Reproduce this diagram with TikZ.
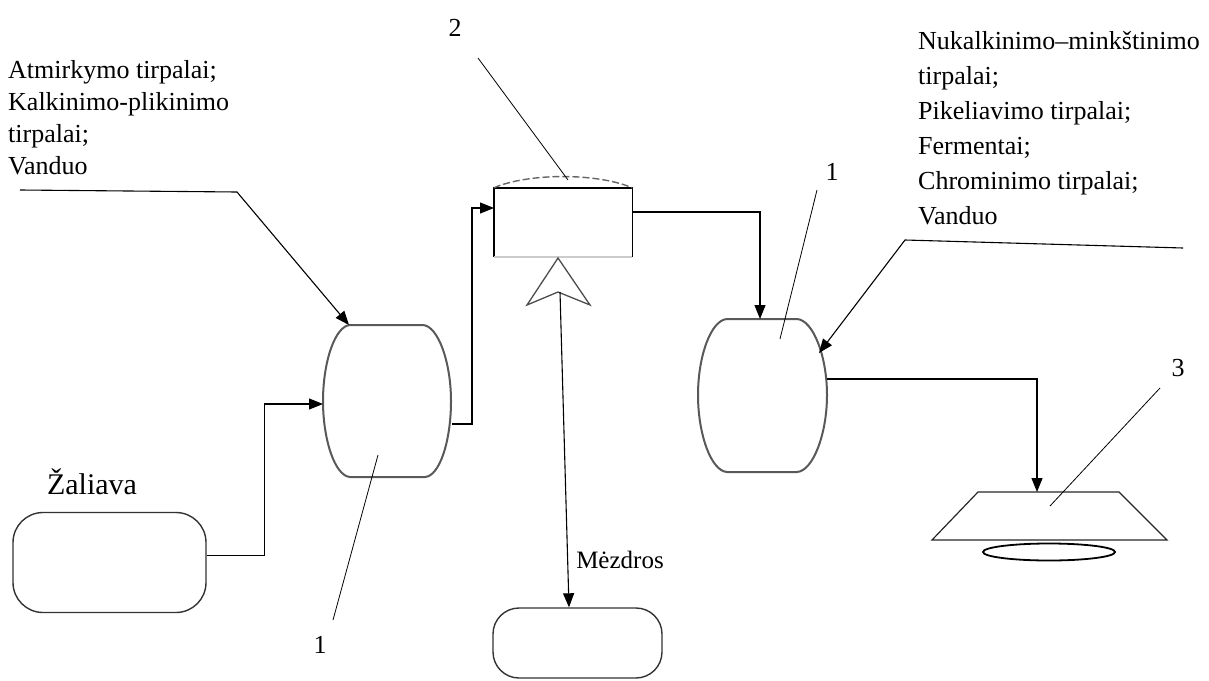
\documentclass[tikz,border=0pt]{standalone}
\usepackage{fontspec}
\setmainfont{Liberation Serif}
\usetikzlibrary{arrows.meta,calc,shapes.geometric}
\begin{document}
\begin{tikzpicture}[x=1pt,y=-1pt,
  conn/.style={line width=1.1pt},
  arr/.style={conn,-{Triangle[length=14pt,width=11pt]}},
  lead/.style={line width=0.8pt},
  vessel/.style={draw=black!65,line width=2pt},
  txt/.style={font=\fontsize{26}{32}\selectfont,inner sep=0pt},
  rbox/.style={draw=black!80,line width=1.4pt,rounded corners=30pt,inner sep=0pt},
]
\useasboundingbox (0,0) rectangle (1209,680);

% vessel 1
\draw[vessel] (350,325) -- (423,325) .. controls (438,326) and (451,362) .. (451,401) .. controls (451,440) and (440,476) .. (425,477) -- (350,477) .. controls (335,476) and (323,440) .. (323,401) .. controls (323,362) and (335,326) .. (350,325) -- cycle;
\coordinate (v1w) at (323,404);
\coordinate (v1e) at (452,424);
\coordinate (v1nw) at (349,325);
\coordinate (v1lab) at (378,455);

% vessel 2
\draw[vessel] (727,319) -- (797,319) .. controls (813,320) and (827,356) .. (827,395) .. controls (827,434) and (813,471) .. (797,472) -- (727,472) .. controls (711,471) and (698,434) .. (698,395) .. controls (698,356) and (711,320) .. (727,319) -- cycle;
\coordinate (v2n) at (760,319);
\coordinate (v2e) at (827,379);
\coordinate (v2in) at (819,353);
\coordinate (v2lab) at (780,339);

% top tank
\node[minimum width=138pt,minimum height=69pt,inner sep=0pt] (tank) at (563,222.5) {};
\draw[line width=1.4pt] (tank.south west) -- (tank.north west) -- (tank.north east) -- (tank.south east);
\draw[line width=1.6pt,black!20] (tank.south west) -- (tank.south east);
\draw[line width=1.4pt,black!60,dash pattern=on 7pt off 3pt] (tank.north west) .. controls ($(tank.north west)+(35,-15)$) and ($(tank.north east)+(-35,-15)$) .. (tank.north east);
\coordinate (tin) at (494,208);
\coordinate (tout) at (632,212);
\coordinate (dome) at (568,180);

% open arrow under the tank
\draw[line width=1.3pt,black!70,line join=miter] (558,258) -- (590,305) -- (558,292) -- (527,305) -- cycle;
\coordinate (notch) at (560,292);

% Zaliava box
\node[rbox,minimum width=193pt,minimum height=100pt] (zal) at (109.5,562.5) {};
\node[font=\fontsize{30}{32}\selectfont,inner sep=0pt,anchor=base] (zaltxt) at (92,494) {Žaliava};

% Mezdros box
\node[rbox,rounded corners=26pt,minimum width=169pt,minimum height=70pt] (mez) at (577.5,643) {};
\node[font=\fontsize{25}{30}\selectfont,inner sep=0pt,anchor=base] (meztxt) at (620,568) {Mėzdros};

% press 3
\draw[line width=1.2pt,black!85] (978,492) -- (1119,492) -- (1167,540) -- (932,540) -- cycle;
\coordinate (trtop) at (1037,492);
\coordinate (trlab) at (1050,506);
\node[draw,ellipse,line width=1.8pt,minimum width=132pt,minimum height=17pt,inner sep=0pt] (disc) at (1049,552) {};

% texts
\node[txt,anchor=north west,align=left] (lt) at (8,60) {Atmirkymo tirpalai;\\Kalkinimo-plikinimo\\tirpalai;\\Vanduo};
\node[font=\fontsize{26}{35}\selectfont,inner sep=0pt,anchor=north west,align=left] (rt) at (918,31) {Nukalkinimo–minkštinimo\\tirpalai;\\Pikeliavimo tirpalai;\\Fermentai;\\Chrominimo tirpalai;\\Vanduo};

% numbers
\node[txt] (n2) at (455,28) {2};
\node[txt] (n1r) at (832,172) {1};
\node[txt] (n1l) at (320,645) {1};
\node[txt] (n3) at (1178,368) {3};
\coordinate (n2a) at (478,58);
\coordinate (n1ra) at (817,190);
\coordinate (n1la) at (333,620);
\coordinate (n3a) at (1160,388);
\draw[lead] (n2a) -- (dome);
\draw[lead] (n1ra) -- (v2lab);
\draw[lead] (n1la) -- (v1lab);
\draw[lead] (n3a) -- (trlab);

% connectors
\draw[arr] ([yshift=7pt]zal.east) -- ++(58,0) |- (v1w);
\draw[arr] (v1e) -- ++(20,0) |- (tin);
\draw[arr] (tout) -| (v2n);
\draw[arr] (v2e) -| (trtop);
\draw[arr] (notch) -- ([xshift=-8.5pt]mez.north);
\coordinate (lin0) at (20,190);
\coordinate (lin1) at (237,192);
\draw[arr] (lin0) -- (lin1) -- (v1nw);
\coordinate (rin0) at (1183,248);
\coordinate (rin1) at (905,240);
\draw[arr] (rin0) -- (rin1) -- (v2in);
\end{tikzpicture}
\end{document}
